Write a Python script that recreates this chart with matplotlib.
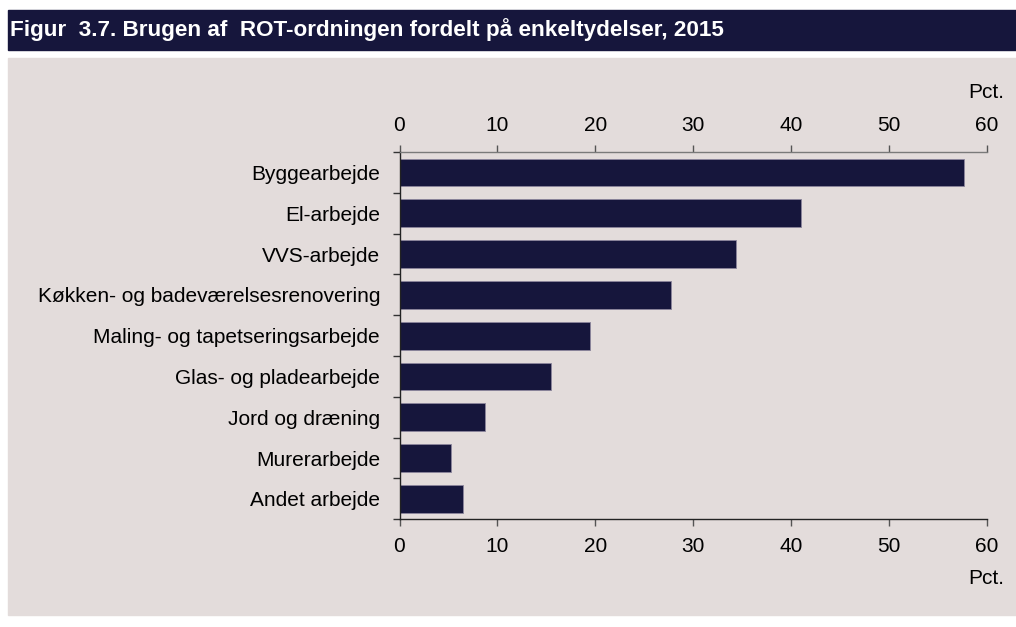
import matplotlib.pyplot as plt
from matplotlib.patches import Rectangle

categories = ['Byggearbejde', 'El-arbejde', 'VVS-arbejde',
              'Køkken- og badeværelsesrenovering', 'Maling- og tapetseringsarbejde',
              'Glas- og pladearbejde', 'Jord og dræning', 'Murerarbejde', 'Andet arbejde']
values = [57.7, 41.0, 34.4, 27.7, 19.5, 15.5, 8.7, 5.3, 6.5]
xticks = [0, 10, 20, 30, 40, 50, 60]

navy = '#16163c'
bg = '#e3dcdb'
W, H = 1016, 627

plt.rcParams['font.family'] = ['Liberation Sans', 'DejaVu Sans']

fig = plt.figure(figsize=(W / 100, H / 100), dpi=100)
fig.patch.set_facecolor('white')

# title bar and chart background
fig.patches.append(Rectangle((8 / W, 1 - 50 / H), 1008 / W, 40 / H,
                             transform=fig.transFigure, color=navy, zorder=-10))
fig.patches.append(Rectangle((8 / W, 1 - 615 / H), 1008 / W, 557 / H,
                             transform=fig.transFigure, color=bg, zorder=-10))
fig.text(10 / W, 1 - 30 / H, 'Figur  3.7. Brugen af  ROT-ordningen fordelt på enkeltydelser, 2015',
         color='white', fontsize=16.2, fontweight='bold', va='center', ha='left')

left, right, top, bottom = 399.5, 987, 152, 519.3
ax = fig.add_axes([left / W, 1 - bottom / H, (right - left) / W, (bottom - top) / H])
ax.set_facecolor('none')
ax.set_zorder(5)

y = list(range(len(categories)))
ax.barh(y, values, height=0.68, color=navy, edgecolor='#8c869c', linewidth=0.6)
ax.set_ylim(len(categories) - 0.5, -0.5)
ax.set_xlim(0, 60)

ax.set_yticks(y)
ax.set_yticklabels(categories, fontsize=15)
ax.tick_params(axis='y', length=0, pad=14)
ax.set_yticks([i + 0.5 for i in range(-1, len(categories))], minor=True)
ax.tick_params(axis='y', which='minor', length=5, width=1, color='#333333')

ax.set_xticks(xticks)
ax.tick_params(axis='x', top=True, labeltop=True, bottom=True, labelbottom=True,
               length=5, width=1, color='#555555', labelsize=15, pad=7.5)

ax.spines['right'].set_visible(False)
ax.spines['top'].set_color('#7a7a7a')
ax.spines['bottom'].set_color('#222222')
ax.spines['left'].set_color('#222222')
for s in ['top', 'bottom', 'left']:
    ax.spines[s].set_linewidth(1)

fig.text(1004 / W, 1 - 92 / H, 'Pct.', fontsize=15, ha='right', va='center')
fig.text(1004 / W, 1 - 578 / H, 'Pct.', fontsize=15, ha='right', va='center')

fig.savefig('out.png', dpi=100, facecolor='white')
